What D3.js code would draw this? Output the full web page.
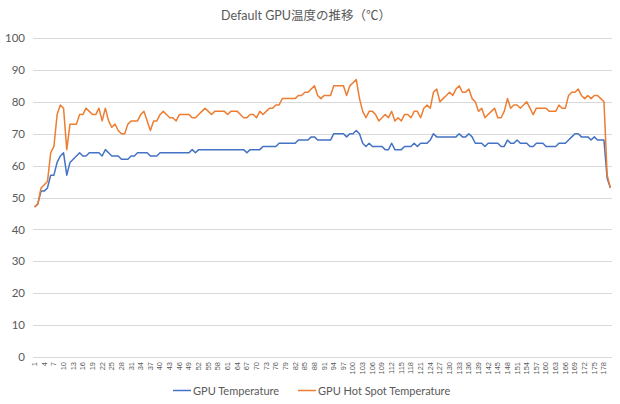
<!DOCTYPE html>
<html><head><meta charset="utf-8">
<script src="https://cdn.jsdelivr.net/npm/d3@7"></script>
<style>
html,body{margin:0;padding:0;background:#fff;}
svg{display:block;font-family:Lato,"Noto Sans CJK JP",sans-serif;}
</style></head>
<body>
<svg id="chart" width="620" height="404"></svg>
<script>
const title = "Default GPU温度の推移（℃）";
const seriesNames = ["GPU Temperature", "GPU Hot Spot Temperature"];
const seriesColors = ["#4472C4", "#ED7D31"];
const yTicks = [0,10,20,30,40,50,60,70,80,90,100];

const gpuTemp = [
47,48,52,52,53,57,57,61,63,64, 57,61,62,63,64,63,63,64,64,64,
64,63,65,64,63,63,63,62,62,62, 63,63,64,64,64,64,63,63,63,64,
64,64,64,64,64,64,64,64,64,65, 64,65,65,65,65,65,65,65,65,65,
65,65,65,65,65,65,64,65,65,65, 65,66,66,66,66,66,67,67,67,67,
67,67,68,68,68,68,69,69,68,68, 68,68,68,70,70,70,70,69,70,70,
71,70,67,66,67,66,66,66,66,65, 65,67,65,65,65,66,66,66,67,66,
67,67,67,68,70,69,69,69,69,69, 69,69,70,69,69,70,69,67,67,67,
66,67,67,67,67,66,66,68,67,67, 68,67,67,67,66,66,67,67,67,66,
66,66,66,67,67,67,68,69,70,70, 69,69,69,68,69,68,68,68,56,53
];
const hotSpot = [
47,48,53,54,55,64,66,76,79,78, 65,73,73,73,76,76,78,77,76,76,
78,74,78,74,72,73,71,70,70,73, 74,74,74,76,77,74,71,74,74,76,
77,76,75,75,74,76,76,76,76,75, 75,76,77,78,77,76,77,77,77,77,
76,77,77,77,76,75,75,76,76,75, 77,76,77,78,78,79,79,81,81,81,
81,81,82,82,83,83,84,85,82,81, 82,82,82,85,85,85,85,82,85,86,
87,81,77,75,77,77,76,74,75,76, 75,77,74,75,74,76,76,75,77,77,
75,78,79,78,83,84,80,81,82,83, 82,84,85,83,83,84,81,80,77,78,
75,76,77,78,75,75,77,81,78,79, 79,78,79,80,78,76,78,78,78,78,
77,77,77,79,78,78,82,83,83,84, 82,81,82,81,82,82,81,80,57,53
];
const categories = d3.range(1, gpuTemp.length + 1);
const tickLabels = categories.filter(d => (d - 1) % 3 === 0);

const svg = d3.select("#chart");
const pLeft = 33, pRight = 612, pTop = 38, pBottom = 357;
const x = d3.scaleBand().domain(categories).range([pLeft, pRight]).padding(0);
const y = d3.scaleLinear().domain([0, 100]).range([pBottom, pTop]);
const cx = d => x(d) + x.bandwidth() / 2;

svg.append("text").attr("x", 306).attr("y", 20).attr("text-anchor", "middle")
  .attr("font-size", 12.5).attr("fill", "#595959").text(title);

// gridlines
svg.append("g").selectAll("line").data(yTicks).join("line")
  .attr("x1", pLeft).attr("x2", pRight)
  .attr("y1", d => Math.round(y(d)) + 0.5).attr("y2", d => Math.round(y(d)) + 0.5)
  .attr("stroke", "#d9d9d9").attr("stroke-width", 1);

// y labels
const yAxis = d3.axisLeft(y).tickValues(yTicks).tickSize(0).tickPadding(0);
const gy = svg.append("g").attr("transform", `translate(${pLeft - 8},0)`).call(yAxis);
gy.select(".domain").remove();
gy.selectAll("text").attr("font-size", 11.5).attr("fill", "#595959")
  .attr("font-family", "Lato,sans-serif");

// x labels
const xAxis = d3.axisBottom(x).tickValues(tickLabels).tickSize(0).tickPadding(0);
const gx = svg.append("g").attr("transform", `translate(0,${pBottom})`).call(xAxis);
gx.select(".domain").remove();
gx.selectAll("text").attr("font-size", 7.5).attr("fill", "#595959")
  .attr("text-anchor", "end").attr("dy", "0.32em")
  .attr("transform", "translate(0,5) rotate(-90)")
  .attr("x", 0).attr("y", 0);

// lines
const line = d3.line().x((d, i) => cx(categories[i])).y(d => y(d));
[gpuTemp, hotSpot].forEach((s, k) => {
  svg.append("path").datum(s).attr("d", line).attr("fill", "none")
    .attr("stroke", seriesColors[k]).attr("stroke-width", 1.5)
    .attr("stroke-linejoin", "round");
});

// legend
const legendItems = [{x: 173, tx: 193}, {x: 298, tx: 318}];
legendItems.forEach((p, k) => {
  svg.append("line").attr("x1", p.x).attr("x2", p.x + 18)
    .attr("y1", 390.5).attr("y2", 390.5)
    .attr("stroke", seriesColors[k]).attr("stroke-width", 1.5);
  svg.append("text").attr("x", p.tx).attr("y", 394.5).attr("font-size", 11)
    .attr("fill", "#595959").text(seriesNames[k]);
});
</script>
</body></html>
